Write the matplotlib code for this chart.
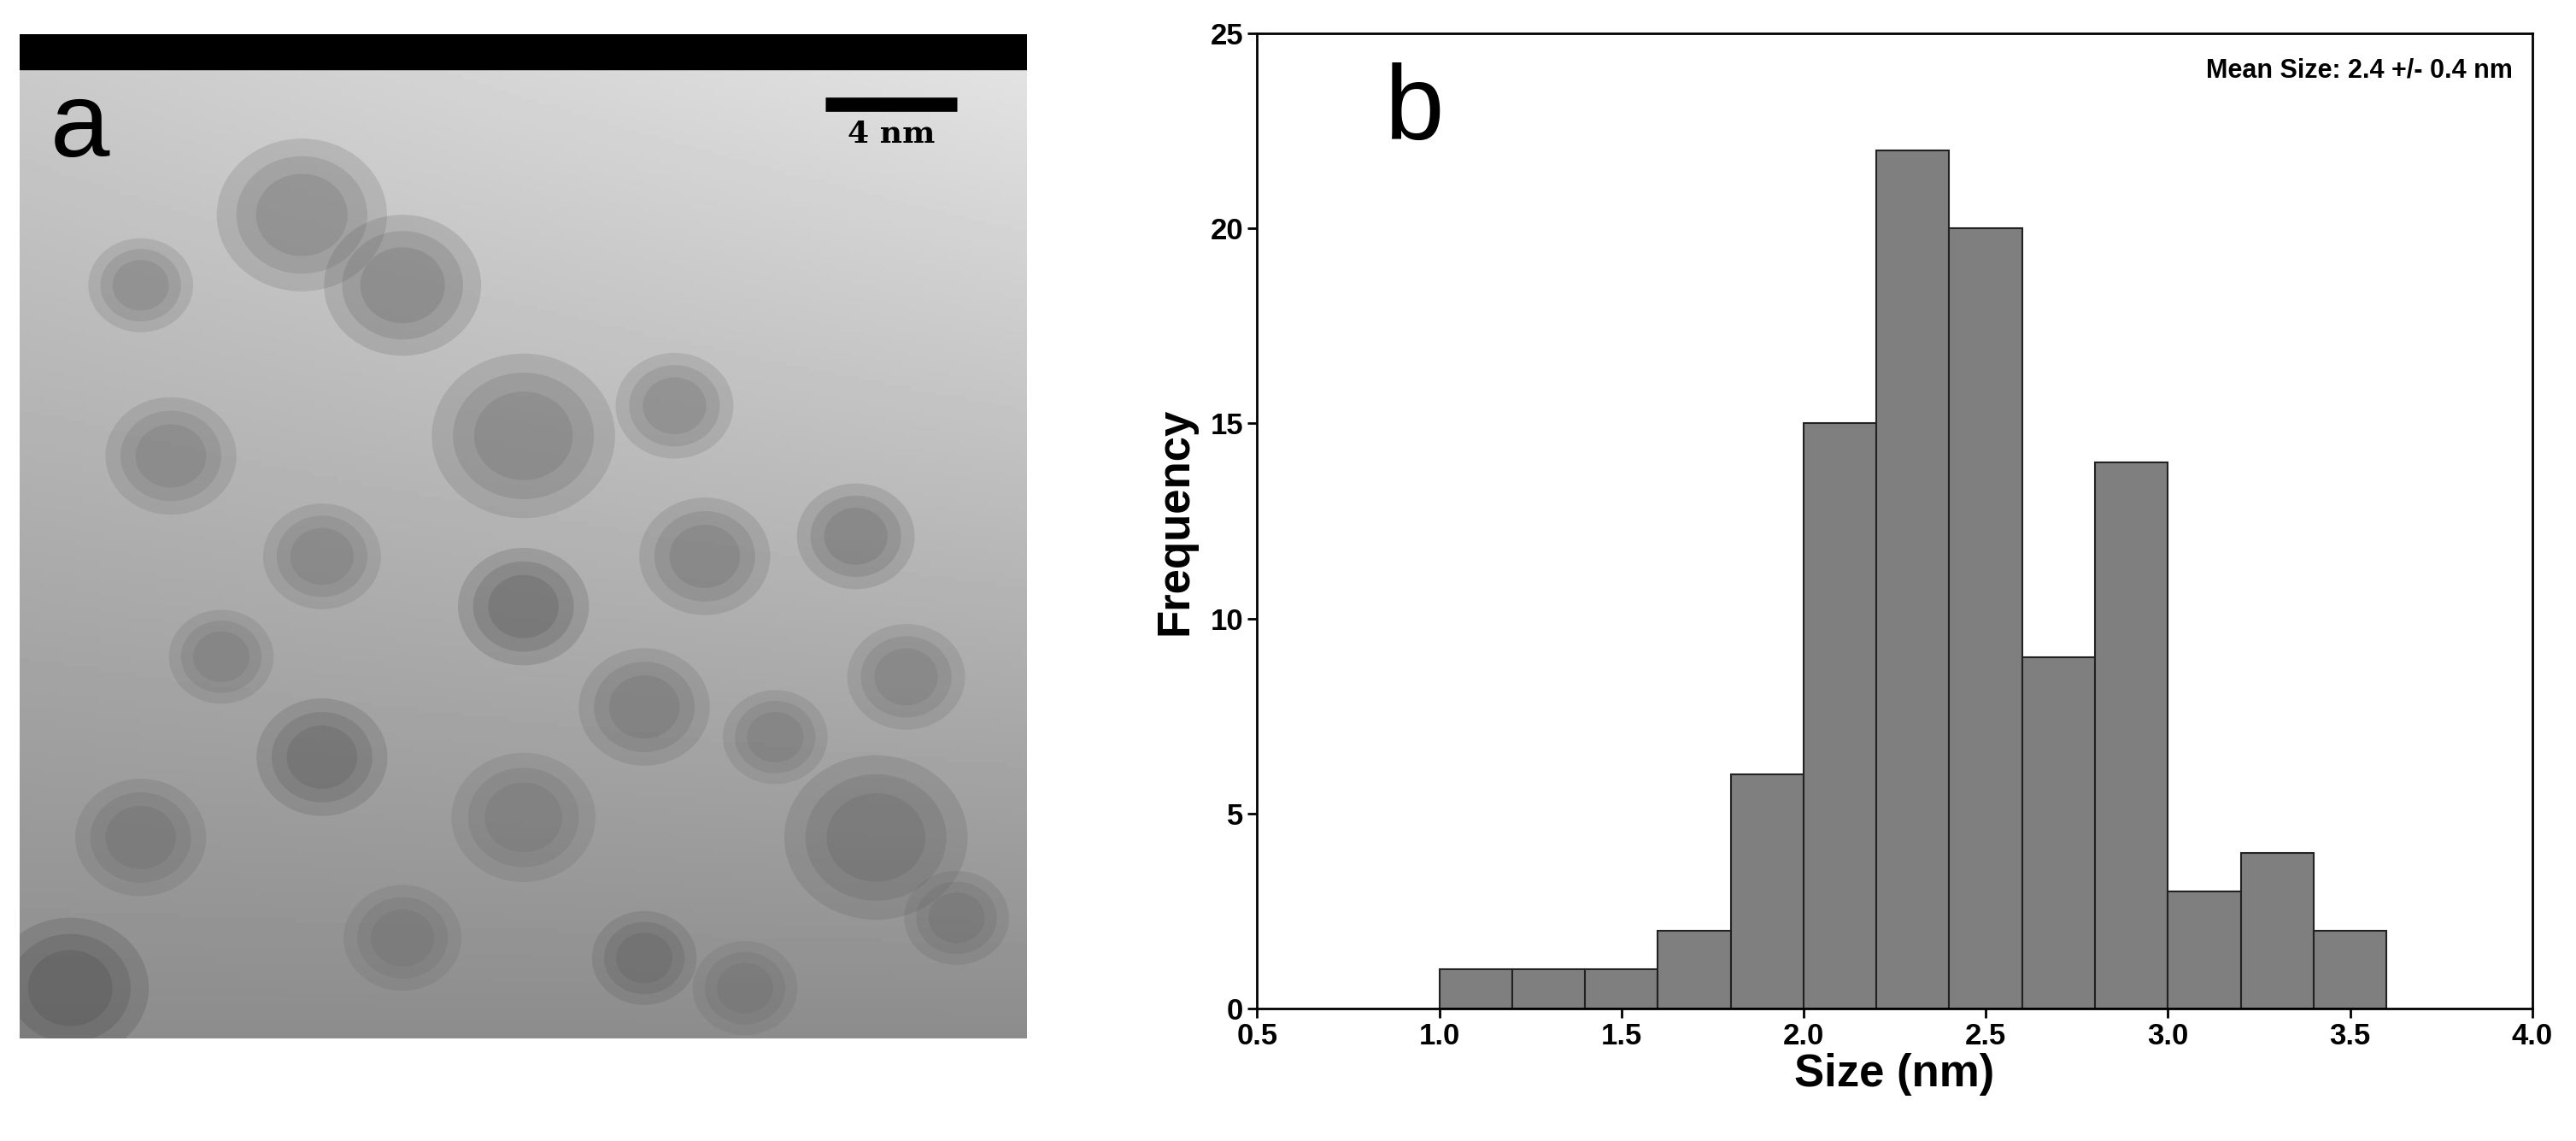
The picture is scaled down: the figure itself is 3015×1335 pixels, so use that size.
import matplotlib
matplotlib.use("Agg")
import matplotlib.pyplot as plt
import numpy as np
from matplotlib.patches import Ellipse

plt.rcParams['font.family'] = ['Liberation Sans', 'DejaVu Sans']

# histogram data (size bins in nm, counts)
bin_left = [1.0, 1.2, 1.4, 1.6, 1.8, 2.0, 2.2, 2.4, 2.6, 2.8, 3.0, 3.2, 3.4]
counts = [1, 1, 1, 2, 6, 15, 22, 20, 9, 14, 3, 4, 2]
bin_width = 0.2

# rough particle positions in TEM panel (x, y, size, darkness) in image fraction
blobs_x = [0.28, 0.38, 0.15, 0.12, 0.5, 0.65, 0.3, 0.5, 0.68, 0.83, 0.62, 0.75, 0.3, 0.5, 0.12, 0.85, 0.93, 0.05, 0.38, 0.62, 0.88, 0.2, 0.72]
blobs_y = [0.82, 0.75, 0.58, 0.75, 0.6, 0.63, 0.48, 0.43, 0.48, 0.5, 0.33, 0.3, 0.28, 0.22, 0.2, 0.2, 0.12, 0.05, 0.1, 0.08, 0.36, 0.38, 0.05]
blobs_s = [0.13, 0.12, 0.1, 0.08, 0.14, 0.09, 0.09, 0.1, 0.1, 0.09, 0.1, 0.08, 0.1, 0.11, 0.1, 0.14, 0.08, 0.12, 0.09, 0.08, 0.09, 0.08, 0.08]
blobs_d = [0.35, 0.4, 0.3, 0.3, 0.35, 0.3, 0.3, 0.55, 0.35, 0.4, 0.35, 0.3, 0.5, 0.3, 0.35, 0.4, 0.35, 0.6, 0.3, 0.45, 0.3, 0.3, 0.3]

fig = plt.figure(figsize=(30.15, 13.35), dpi=100)

# panel a
axa = fig.add_axes([0.0077, 0.09, 0.391, 0.88])
axa.set_xlim(0, 1)
axa.set_ylim(0, 1)
yy, xx = np.mgrid[0:1:200j, 0:1:200j]
shade = 0.55 + 0.25 * yy + 0.1 * xx * yy
axa.imshow(shade, cmap='gray', vmin=0, vmax=1, extent=[0, 1, 0, 1], origin='lower', aspect='auto')
for x, y, s, d in zip(blobs_x, blobs_y, blobs_s, blobs_d):
    # stacked soft ellipses to blur the edges
    for k in (1.3, 1.0, 0.7):
        axa.add_patch(Ellipse((x, y), s * k, s * k * 0.9, color=str(0.55 - d * 0.5), alpha=0.2, lw=0))
axa.axhspan(0.965, 1.0, color='black')
axa.plot([0.8, 0.93], [0.93, 0.93], color='black', lw=12, solid_capstyle='butt')
axa.text(0.865, 0.915, '4 nm', ha='center', va='top', fontsize=26, fontweight='bold', family='DejaVu Serif')
axa.text(0.03, 0.955, 'a', ha='left', va='top', fontsize=90)
axa.set_xticks([])
axa.set_yticks([])
for s in axa.spines.values():
    s.set_visible(False)

# panel b
ax = fig.add_axes([0.488, 0.116, 0.495, 0.855])
ax.bar(bin_left, counts, width=bin_width, align='edge', color='#7f7f7f', edgecolor='#222222', lw=1.5)
ax.set_xlim(0.5, 4.0)
ax.set_ylim(0, 25)
ax.set_xticks(np.arange(0.5, 4.01, 0.5))
ax.set_yticks(range(0, 26, 5))
ax.tick_params(labelsize=25, width=2, length=8)
for lab in ax.get_xticklabels() + ax.get_yticklabels():
    lab.set_fontweight('bold')
for s in ax.spines.values():
    s.set_linewidth(2)
ax.set_xlabel('Size (nm)', fontsize=38, fontweight='bold', labelpad=2)
ax.set_ylabel('Frequency', fontsize=38, fontweight='bold', labelpad=12)
ax.text(0.985, 0.975, 'Mean Size: 2.4 +/- 0.4 nm', transform=ax.transAxes, ha='right', va='top', fontsize=22, fontweight='bold')
ax.text(0.1, 0.97, 'b', transform=ax.transAxes, ha='left', va='top', fontsize=90)

fig.savefig('out.png')
